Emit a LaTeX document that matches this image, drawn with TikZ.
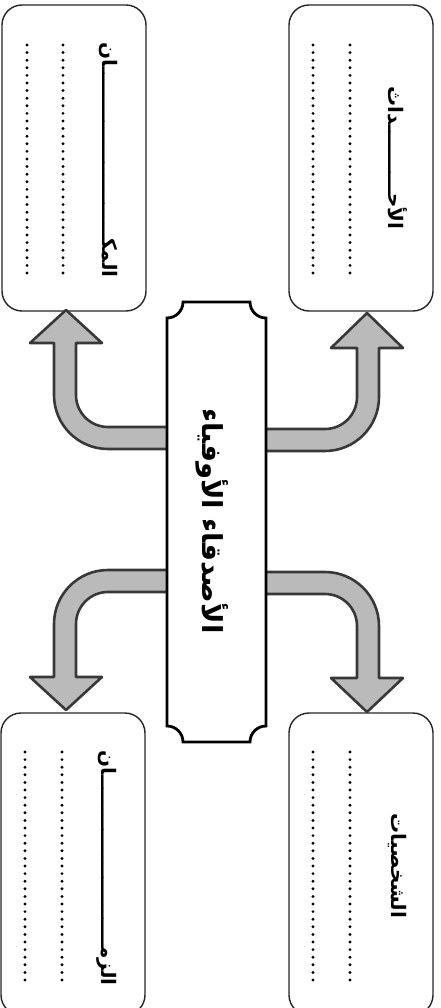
\documentclass[tikz,border=0pt]{standalone}
\usepackage{fontspec}
\newfontfamily\arabicfont[Script=Arabic]{DejaVu Sans}
\TeXXeTstate=1
\begin{document}
\begin{tikzpicture}[x=1pt,y=-1pt,
  box/.style={draw=black!85,line width=1.4pt,rounded corners=20pt,fill=white,inner sep=0pt},
  dots/.style={draw=black,line width=3.2pt,line cap=round,dash pattern=on 0pt off 7.6pt},
  arr/.style={draw=black!78,fill=black!27,line width=2.6pt,line join=round},
  banner/.style={draw=black,line width=2.8pt,fill=white,line join=miter},
  lbl/.style={font=\arabicfont\bfseries\fontsize{20}{22}\selectfont,rotate=-90,inner sep=0pt},
  ttl/.style={font=\arabicfont\bfseries\fontsize{27.5}{30}\selectfont,rotate=-90,inner sep=0pt}]
\useasboundingbox (0,0) rectangle (441,1008);
\begin{scope}
\clip (0,0) rectangle (441,1008);
% boxes
\node[box,minimum width=144pt,minimum height=306pt] (tl) at (74,158) {};
\node[box,minimum width=144pt,minimum height=306pt] (tr) at (361,158) {};
\node[box,minimum width=144pt,minimum height=302pt] (bl) at (73,864) {};
\node[box,minimum width=144pt,minimum height=302pt] (br) at (361,864) {};
% dotted lines
\draw[dots] (27,45) -- (27,273);
\draw[dots] (63,45) -- (63,273);
\draw[dots] (313,45) -- (313,275);
\draw[dots] (350,45) -- (350,275);
\draw[dots] (25,752) -- (25,980);
\draw[dots] (62,752) -- (62,982);
\draw[dots] (313,752) -- (313,980);
\draw[dots] (350,752) -- (350,982);
% arrows
\draw[arr] (180,427) -- (108,427) arc(90:180:32) -- (76,343) -- (102,343) -- (66,310) -- (30,343) -- (54,343) -- (54,395) arc(180:90:54) -- (180,449) -- cycle;
\draw[arr] (253,429) -- (325,429) arc(90:0:32) -- (357,348) -- (331,348) -- (367,313) -- (403,348) -- (379,348) -- (379,397) arc(0:90:54) -- (253,451) -- cycle;
\draw[arr] (180,592) -- (108,592) arc(270:180:32) -- (76,677) -- (102,677) -- (66,710) -- (30,677) -- (54,677) -- (54,624) arc(180:270:54) -- (180,570) -- cycle;
\draw[arr] (253,594) -- (325,594) arc(270:360:32) -- (357,678) -- (331,678) -- (367,712) -- (403,678) -- (379,678) -- (379,626) arc(360:270:54) -- (253,572) -- cycle;
% banner
\draw[banner] (183,302) -- (250,302) arc(180:90:16) -- (266,726) arc(270:180:16) -- (183,742) arc(0:-90:16) -- (167,318) arc(90:0:16) -- cycle;
\node[ttl] (title) at (212,521) {\beginR الأصدقاء الأوفياء\endR};
% labels
\node[lbl] (tlt) at (108,160) {\beginR المكـــــــــــــــــــــــــان\endR};
\node[lbl] (trt) at (398,158) {\beginR الأحــــــــــداث\endR};
\node[lbl] (blt) at (107,868) {\beginR الزمـــــــــــــــــــــــــان\endR};
\node[lbl] (brt) at (397,866) {\beginR الشخصيات\endR};
\end{scope}
\end{tikzpicture}
\end{document}
